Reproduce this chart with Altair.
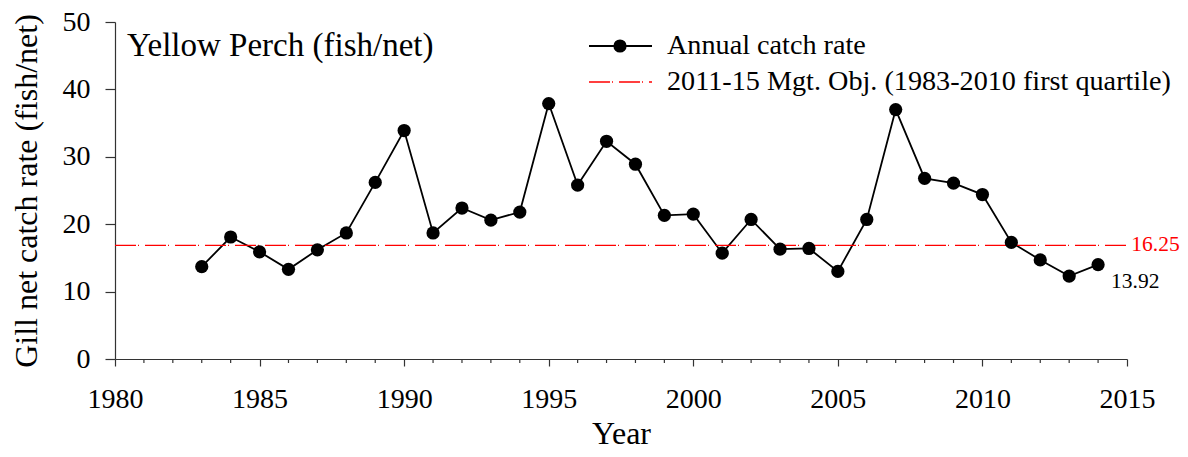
import altair as alt
import pandas as pd

years = list(range(1983, 2015))
catch_rate = [13.7, 18.1, 15.9, 13.3, 16.2, 18.7, 26.2, 33.9, 18.7, 22.4,
              20.6, 21.8, 37.9, 25.8, 32.3, 28.9, 21.3, 21.5, 15.7, 20.7,
              16.3, 16.4, 13.0, 20.7, 37.0, 26.8, 26.1, 24.4, 17.3, 14.7,
              12.3, 14.0]
objective_value = 16.85         # drawn position of the objective line
objective_label = "16.25"
last_label = "13.92"
x_range = [1980, 2015]
y_range = [0, 50]
major_years = [1980, 1985, 1990, 1995, 2000, 2005, 2010, 2015]
minor_years = [y for y in range(1980, 2016) if y % 5 != 0]
y_ticks = [0, 10, 20, 30, 40, 50]
series_name = "Annual catch rate"
objective_name = "2011-15 Mgt. Obj. (1983-2010 first quartile)"
panel_title = "Yellow Perch (fish/net)"
x_title = "Year"
y_title = "Gill net catch rate (fish/net)"

FONT = "Liberation Serif"
RED = "#ff0000"
DASH = [21, 2, 1, 6]
PLOT_W = 1012
PLOT_H = 337

df = pd.DataFrame({"year": years, "rate": catch_rate})
obj_df = pd.DataFrame({"year": [x_range[0], x_range[1]], "rate": [objective_value] * 2})
minor_df = pd.DataFrame({"year": minor_years})
one = pd.DataFrame({"a": [0]})

xs = alt.Scale(domain=x_range, nice=False, zero=False)
ys = alt.Scale(domain=y_range, nice=False)

x_main = alt.X("year:Q", scale=xs, title=x_title,
               axis=alt.Axis(values=major_years, format="d", labelFlush=False,
                             tickSize=7, labelPadding=19, titlePadding=5,
                             grid=False, orient="bottom"))
y_main = alt.Y("rate:Q", scale=ys, title=y_title,
               axis=alt.Axis(values=y_ticks, labelFlush=False,
                             tickSize=10, labelPadding=15, titlePadding=19, grid=False))
x_plain = alt.X("year:Q", scale=xs, title=x_title)
y_plain = alt.Y("rate:Q", scale=ys, title=y_title)

line = alt.Chart(df).mark_line(color="black", strokeWidth=1.8).encode(x=x_main, y=y_main)
pts = alt.Chart(df).mark_point(filled=True, color="black", size=175, opacity=1).encode(
    x=x_plain, y=y_plain)

minor = alt.Chart(minor_df).mark_rule(color="#333333", strokeWidth=1.2).encode(
    x=x_plain, y=alt.value(PLOT_H), y2=alt.value(PLOT_H + 4))

obj = alt.Chart(obj_df).mark_line(color=RED, strokeWidth=1.3, strokeDash=DASH).encode(
    x=x_plain, y=y_plain)

ann = pd.DataFrame({"year": [2015.15, 2014.45], "rate": [objective_value, 11.4],
                    "txt": [objective_label, last_label], "col": [RED, "black"]})
ann_text = alt.Chart(ann).mark_text(font=FONT, fontSize=21.5, align="left", baseline="middle").encode(
    x=x_plain, y=y_plain, text="txt:N", color=alt.Color("col:N", scale=None))

title_txt = alt.Chart(one).mark_text(font=FONT, fontSize=33, align="left", baseline="middle",
                                     text=panel_title).encode(x=alt.value(12), y=alt.value(24))

leg1_line = alt.Chart(one).mark_rule(color="black", strokeWidth=1.8).encode(
    x=alt.value(474), x2=alt.value(537), y=alt.value(24))
leg1_pt = alt.Chart(one).mark_point(filled=True, color="black", size=175, opacity=1).encode(
    x=alt.value(505), y=alt.value(24))
leg1_txt = alt.Chart(one).mark_text(font=FONT, fontSize=28.2, align="left", baseline="middle",
                                    text=series_name).encode(x=alt.value(552), y=alt.value(24))
leg2_line = alt.Chart(one).mark_rule(color=RED, strokeWidth=1.3, strokeDash=DASH).encode(
    x=alt.value(474), x2=alt.value(537), y=alt.value(60))
leg2_txt = alt.Chart(one).mark_text(font=FONT, fontSize=28.2, align="left", baseline="middle",
                                    text=objective_name).encode(x=alt.value(552), y=alt.value(60))

chart = alt.layer(line, minor, obj, pts, ann_text, title_txt,
                  leg1_line, leg1_pt, leg1_txt, leg2_line, leg2_txt).properties(
    width=PLOT_W, height=PLOT_H,
    autosize=alt.AutoSizeParams(type="none"),
    padding={"left": 107, "top": 14, "right": 53, "bottom": 90},
).configure_axis(
    labelFont=FONT, titleFont=FONT, labelFontSize=28, titleFontSize=32,
    labelColor="black", titleColor="black", titleFontWeight="normal",
    domainColor="#333333", tickColor="#333333", domainWidth=1.2, tickWidth=1.2,
).configure_view(stroke=None)

chart.save("out.html", embed_options={"renderer": "svg", "actions": False})
